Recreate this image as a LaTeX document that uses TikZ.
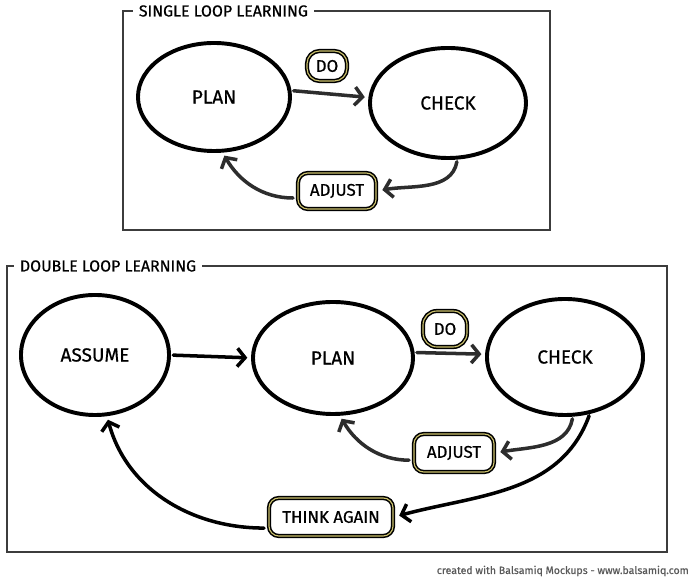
\documentclass[tikz,border=0pt]{standalone}
\usepackage{fontspec}
\setmainfont{Fira Sans}[FakeBold=0.6]
\usetikzlibrary{arrows.meta}
\usetikzlibrary{shapes.geometric}
\definecolor{loopgray}{RGB}{45,45,45}
\definecolor{framegray}{RGB}{60,60,60}
\definecolor{pillyellow}{RGB}{205,195,110}
\definecolor{markgray}{RGB}{90,90,90}

\tikzset{
  stage/.style={ellipse,draw,line width=2.8pt,inner sep=0pt,outer sep=0pt,font=\fontsize{13.5}{15}\selectfont},
  pill/.style={rectangle,rounded corners=7pt,draw=black,double=pillyellow,double distance=0.8pt,line width=1.1pt,fill=white,inner sep=0pt,font=\fontsize{12}{14}\selectfont},
  flow/.style={line width=2.5pt,line cap=round,-{Straight Barb[length=5.5pt,width=13pt]},shorten <=3pt,shorten >=4pt},
  boxtitle/.style={fill=white,inner xsep=4pt,inner ysep=1pt,anchor=west,font=\fontsize{11.3}{13}\selectfont}
}

\begin{document}
\begin{tikzpicture}[x=0.025cm,y=0.025cm]
\useasboundingbox (0,0) rectangle (692,578);

%% single loop
% frame
\draw [framegray,line width=1.1pt] (123,348) rectangle (550,567);
\node [boxtitle] (title1) at (133,567) {SINGLE LOOP LEARNING};
% stages
\node [stage,minimum width=3.8cm,minimum height=2.7cm] (plan1) at (214,481) {PLAN};
\node [stage,minimum width=3.9cm,minimum height=2.75cm] (check1) at (448,475) {CHECK};
\node [pill,rounded corners=9pt,minimum width=1.0cm,minimum height=0.75cm] (do1) at (327,512) {DO};
\node [pill,minimum width=1.95cm,minimum height=0.9cm] (adjust1) at (337,387) {ADJUST};
% arrows
\draw [flow,loopgray] (plan1.5) -- (check1.176);
\draw [flow,loopgray] (check1.-80) to[out=-100,in=10] (adjust1.east);
\draw [flow,loopgray] (adjust1.190) to[out=180,in=-60] (plan1.-82);

%% double loop
% frame
\draw [framegray,line width=1.1pt] (7,26) rectangle (667,312);
\node [boxtitle] (title2) at (14,312) {DOUBLE LOOP LEARNING};
% stages
\node [stage,minimum width=3.7cm,minimum height=3.0cm] (assume) at (95,223) {ASSUME};
\node [stage,minimum width=4.0cm,minimum height=2.8cm] (plan2) at (333,220) {PLAN};
\node [stage,minimum width=3.9cm,minimum height=2.9cm] (check2) at (565,221) {CHECK};
\node [pill,rounded corners=10pt,minimum width=1.1cm,minimum height=0.9cm] (do2) at (445,249) {DO};
\node [pill,minimum width=2.0cm,minimum height=0.95cm] (adjust2) at (454,125) {ADJUST};
\node [pill,minimum width=3.1cm,minimum height=0.95cm] (think) at (331,61) {THINK AGAIN};
% arrows
\draw [flow] (assume.east) -- (plan2.west);
\draw [flow,loopgray] (plan2.4) -- (check2.178);
\draw [flow,loopgray] (check2.-82) to[out=-100,in=10] (adjust2.east);
\draw [flow,loopgray] (adjust2.190) to[out=180,in=-60] (plan2.-84);
\draw [flow] (check2.-65) to[out=-110,in=15] (think.east);
\draw [flow] (think.190) to[out=180,in=-75] (assume.-79);

%% watermark
\node [anchor=east,markgray,inner sep=0pt,font=\fontsize{7.5}{9}\selectfont] (mark) at (689,7) {created with Balsamiq Mockups - www.balsamiq.com};

\end{tikzpicture}
\end{document}
